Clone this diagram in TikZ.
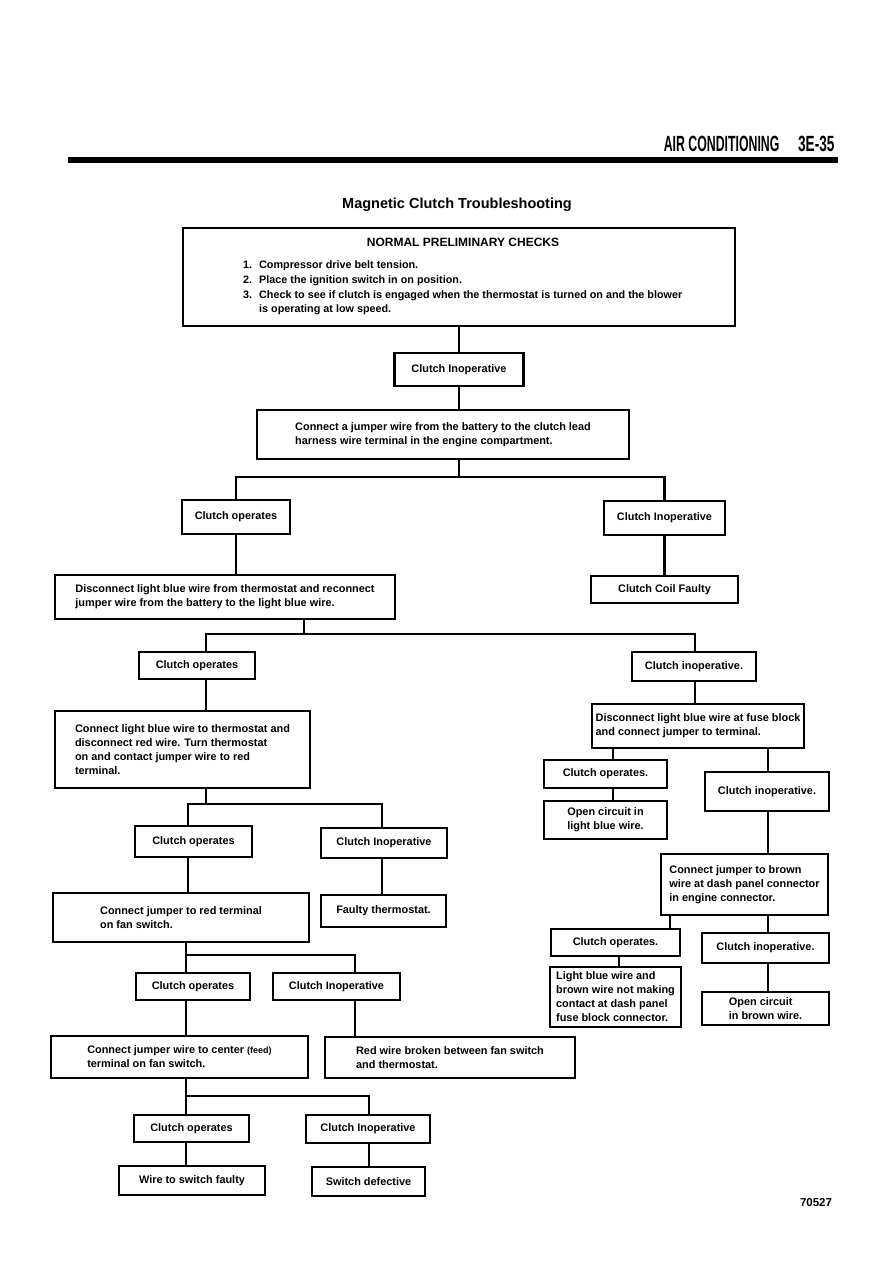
\documentclass[tikz,border=0pt]{standalone}
\usepackage{fontspec}
\setmainfont{Liberation Sans}
\usepackage{graphicx}

\begin{document}
\begin{tikzpicture}[x=1pt,y=-1pt,
    cbox/.style={draw, line width=2.2pt, inner sep=0pt, align=left,
      font=\bfseries\fontsize{10.9}{14}\selectfont},
    link/.style={line width=2.2pt}]
  \useasboundingbox (0,0) rectangle (893,1263);
  \fill[white] (0,0) rectangle (893,1263);

  \node[anchor=base east,font=\bfseries\fontsize{22}{22}\selectfont] (hdr) at (783,151) {\scalebox{0.56}[1]{AIR CONDITIONING}};
  \node[anchor=base east,font=\bfseries\fontsize{22}{22}\selectfont] (pg) at (838,151) {\scalebox{0.62}[1]{3E-35}};
  \fill (68,157) rectangle (838,163);
  \node[font=\bfseries\fontsize{14.5}{14.5}\selectfont] (title) at (457,205) {Magnetic Clutch Troubleshooting};

  \node[cbox, minimum width=552, minimum height=98] (pre) at (459,277) {};
  \node[font=\bfseries\fontsize{12}{12}\selectfont] (prehd) at (463,242) {NORMAL PRELIMINARY CHECKS};
  \node[anchor=base west,inner sep=0pt,font=\bfseries\fontsize{10.8}{15}\selectfont] (prelist) at (243,268)
    {\begin{tabular}[t]{@{}p{16pt}@{}l@{}}
      1. & Compressor drive belt tension.\\
      2. & Place the ignition switch in on position.\\
      3. & Check to see if clutch is engaged when the thermostat is turned on and the blower\\[-1pt]
         & is operating at low speed.
    \end{tabular}};

  \node[cbox, minimum width=129, minimum height=33] (ci1) at (459,369.5) {Clutch Inoperative};
  \node[cbox, minimum width=372, minimum height=49] (conj) at (443,434.5) {Connect a jumper wire from the battery to the clutch lead\\harness wire terminal in the engine compartment.};
  \node[cbox, minimum width=108, minimum height=34] (cop1) at (236,517) {Clutch operates};
  \node[cbox, minimum width=121, minimum height=34] (cin1) at (664.5,518) {Clutch Inoperative};
  \node[cbox, minimum width=340, minimum height=44] (disc) at (225,597) {Disconnect light blue wire from thermostat and reconnect\\jumper wire from the battery to the light blue wire.};
  \node[cbox, minimum width=147, minimum height=27] (coil) at (664.5,589.5) {Clutch Coil Faulty};
  \node[cbox, minimum width=116, minimum height=27] (cop2) at (197,665.5) {Clutch operates};
  \node[cbox, minimum width=124, minimum height=29] (cin2) at (694,666.5) {Clutch inoperative.};
  \node[cbox, minimum width=255, minimum height=77] (clb) at (182.5,749.5) {Connect light blue wire to thermostat and\\disconnect red wire. Turn thermostat\\on and contact jumper wire to red\\terminal.};
  \node[cbox, minimum width=117, minimum height=31] (cop3) at (193.5,841.5) {Clutch operates};
  \node[cbox, minimum width=126, minimum height=30] (cin3) at (384,843) {Clutch Inoperative};
  \node[cbox, minimum width=256, minimum height=49] (red) at (181,917.5) {Connect jumper to red terminal\\on fan switch.};
  \node[cbox, minimum width=125, minimum height=32] (fth) at (383.5,911) {Faulty thermostat.};
  \node[cbox, minimum width=114, minimum height=27] (cop4) at (193,986.5) {Clutch operates};
  \node[cbox, minimum width=127, minimum height=27] (cin4) at (336.5,986.5) {Clutch Inoperative};
  \node[cbox, minimum width=257, minimum height=42] (feed) at (179.5,1057) {Connect jumper wire to center {\fontsize{9}{10}\selectfont(feed)}\\terminal on fan switch.};
  \node[cbox, minimum width=250, minimum height=41] (brk) at (450,1057.5) {Red wire broken between fan switch\\and thermostat.};
  \node[cbox, minimum width=115, minimum height=27] (cop5) at (191.5,1128.5) {Clutch operates};
  \node[cbox, minimum width=124, minimum height=28] (cin5) at (368,1129) {Clutch Inoperative};
  \node[cbox, minimum width=146, minimum height=29] (wsf) at (192,1180.5) {Wire to switch faulty};
  \node[cbox, minimum width=113, minimum height=29] (swd) at (368.5,1181.5) {Switch defective};

  \node[cbox, minimum width=212, minimum height=44] (fuse) at (698,726) {Disconnect light blue wire at fuse block\\and connect jumper to terminal.};
  \node[cbox, minimum width=123, minimum height=28] (cop6) at (605.5,774) {Clutch operates.};
  \node[cbox, minimum width=123, minimum height=38] (ocl) at (605.5,820) {Open circuit in\\light blue wire.};
  \node[cbox, minimum width=124, minimum height=39] (cin6) at (767,791.5) {Clutch inoperative.};
  \node[cbox, minimum width=167, minimum height=61] (brn) at (744.5,884.5) {Connect jumper to brown\\wire at dash panel connector\\in engine connector.};
  \node[cbox, minimum width=129, minimum height=27] (cop7) at (615.5,942.5) {Clutch operates.};
  \node[cbox, minimum width=131, minimum height=60] (lbb) at (615.5,997) {Light blue wire and\\brown wire not making\\contact at dash panel\\fuse block connector.};
  \node[cbox, minimum width=127, minimum height=30] (cin7) at (765.5,948) {Clutch inoperative.};
  \node[cbox, minimum width=127, minimum height=33] (ocb) at (765.5,1008.5) {Open circuit\\in brown wire.};

  \node[font=\bfseries\fontsize{11.5}{11.5}\selectfont] (fig) at (816,1203) {70527};

  \coordinate (b1) at (459,477);
  \coordinate (b2) at (304,634);
  \coordinate (j2l) at (206,634);
  \coordinate (j2r) at (695,634);
  \coordinate (j3) at (206,804);
  \coordinate (j3l) at (188,804);
  \coordinate (j3r) at (382,804);
  \coordinate (j4l) at (186,955);
  \coordinate (j4r) at (355,955);
  \coordinate (j5l) at (186,1096);
  \coordinate (j5r) at (369,1096);
  \coordinate (r1) at (613,0);
  \coordinate (r2) at (768,0);
  \coordinate (r3) at (670,0);
  \coordinate (r4) at (619,0);

  \draw[link] (pre.south) -- (ci1.north);
  \draw[link] (ci1.south) -- (ci1.south |- conj.north);
  \draw[link] (ci1.south |- conj.south) -- (b1);
  \draw[link] (cop1.north) |- (b1) -| (cin1.north);
  \draw[link] (cop1.south) -- (cop1.south |- disc.north);
  \draw[link] (cin1.south) -- (cin1.south |- coil.north);
  \draw[link] (b2 |- disc.south) -- (b2);
  \draw[link] (j2l |- cop2.north) -- (j2l) -- (j2r) -- (j2r |- cin2.north);
  \draw[link] (j2l |- cop2.south) -- (j2l |- clb.north);
  \draw[link] (j2r |- cin2.south) -- (j2r |- fuse.north);
  \draw[link] (j3 |- clb.south) -- (j3);
  \draw[link] (j3l |- cop3.north) -- (j3l) -- (j3r) -- (j3r |- cin3.north);
  \draw[link] (j3l |- cop3.south) -- (j3l |- red.north);
  \draw[link] (j3r |- cin3.south) -- (j3r |- fth.north);
  \draw[link] (j4l |- red.south) -- (j4l) -- (j4r) -- (j4r |- cin4.north);
  \draw[link] (j4l) -- (j4l |- cop4.north);
  \draw[link] (j4l |- cop4.south) -- (j4l |- feed.north);
  \draw[link] (j4r |- cin4.south) -- (j4r |- brk.north);
  \draw[link] (j5l |- feed.south) -- (j5l) -- (j5r) -- (j5r |- cin5.north);
  \draw[link] (j5l) -- (j5l |- cop5.north);
  \draw[link] (j5l |- cop5.south) -- (j5l |- wsf.north);
  \draw[link] (j5r |- cin5.south) -- (j5r |- swd.north);

  \draw[link] (r1 |- fuse.south) -- (r1 |- cop6.north);
  \draw[link] (r2 |- fuse.south) -- (r2 |- cin6.north);
  \draw[link] (r1 |- cop6.south) -- (r1 |- ocl.north);
  \draw[link] (r2 |- cin6.south) -- (r2 |- brn.north);
  \draw[link] (r3 |- brn.south) -- (r3 |- cop7.north);
  \draw[link] (r2 |- brn.south) -- (r2 |- cin7.north);
  \draw[link] (r4 |- cop7.south) -- (r4 |- lbb.north);
  \draw[link] (r2 |- cin7.south) -- (r2 |- ocb.north);
\end{tikzpicture}
\end{document}
